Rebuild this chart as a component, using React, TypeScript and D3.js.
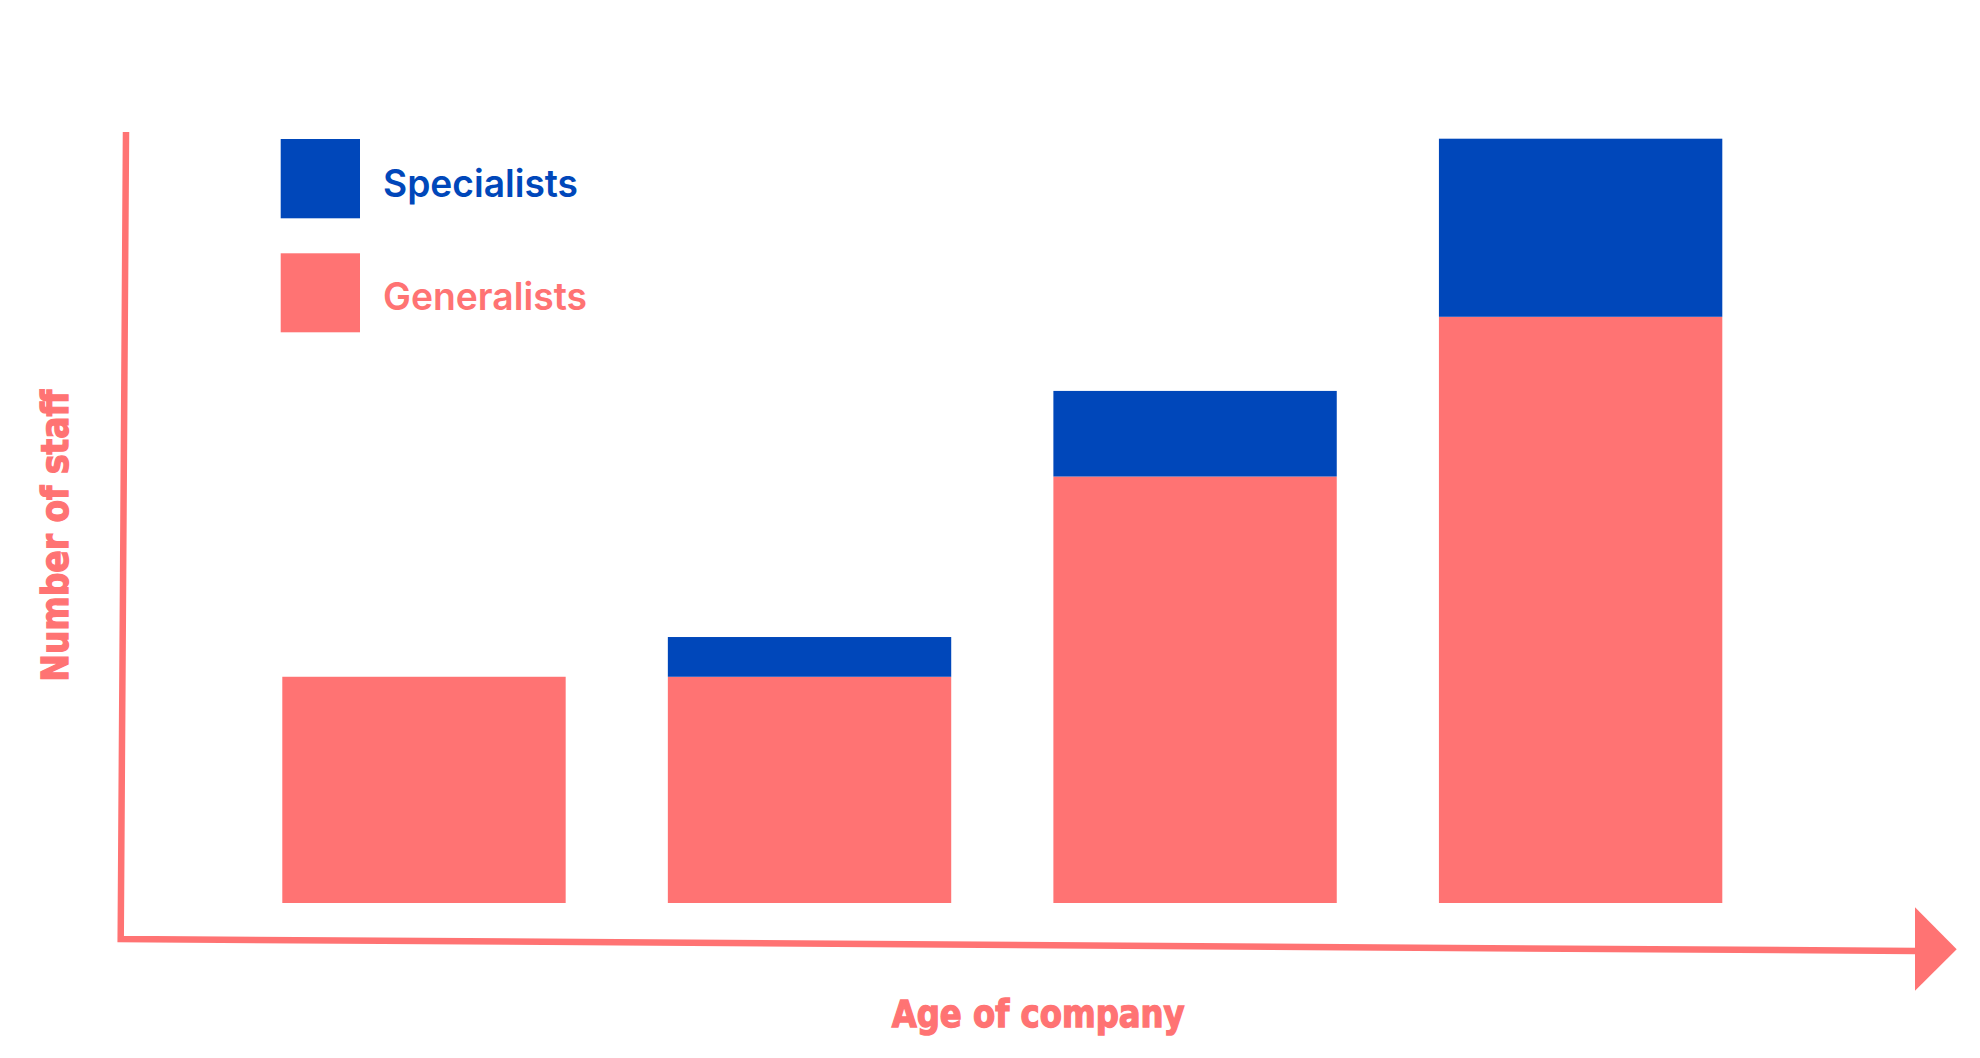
import React from "react";
import * as d3 from "d3";

const categories = ["Stage 1", "Stage 2", "Stage 3", "Stage 4"];
const generalists = [29.6, 29.6, 55.8, 76.7];
const specialists = [0, 5.2, 11.2, 23.3];
const seriesNames = ["Specialists", "Generalists"];
const xAxisLabel = "Age of company";
const yAxisLabel = "Number of staff";

const PINK = "#ff7373";
const BLUE = "#0047ba";

export default function App() {
  const W = 1980;
  const H = 1058;
  const x = d3
    .scaleBand<string>()
    .domain(categories)
    .range([282.3, 1722.3])
    .paddingInner(0.265)
    .paddingOuter(0);
  const y = d3.scaleLinear().domain([0, 100]).range([903, 138.7]);

  const rows = categories.map((c, i) => ({
    cat: c,
    Generalists: generalists[i],
    Specialists: specialists[i],
  }));
  const stacked = d3.stack<any>().keys(["Generalists", "Specialists"])(rows);
  const colors: Record<string, string> = { Generalists: PINK, Specialists: BLUE };

  const labelFont = "'DejaVu Sans', sans-serif";
  const legendFont = "Inter, 'Open Sans', sans-serif";

  return (
    <svg
      width={W}
      height={H}
      style={{ position: "absolute", left: 0, top: 0, background: "#fff" }}
    >
      {/* bars */}
      {stacked.map((s) => (
        <g key={s.key} fill={colors[s.key]}>
          {s.map((d, i) =>
            d[1] - d[0] > 0 ? (
              <rect
                key={i}
                x={x(categories[i])}
                width={x.bandwidth()}
                y={y(d[1])}
                height={y(d[0]) - y(d[1])}
              />
            ) : null
          )}
        </g>
      ))}

      {/* axes */}
      <path
        d="M126,132 L120.7,939 L1916,951"
        fill="none"
        stroke={PINK}
        strokeWidth={6.5}
        strokeLinejoin="miter"
      />
      <path d="M1915,907.3 L1956.7,949.3 L1915,990.7 Z" fill={PINK} />

      {/* axis labels */}
      <text
        x={891.7}
        y={1026.7}
        fill={PINK}
        stroke={PINK}
        strokeWidth={1.4}
        fontFamily={labelFont}
        fontWeight={700}
        fontSize={37}
        textLength={293}
        lengthAdjust="spacingAndGlyphs"
      >
        {xAxisLabel}
      </text>
      <text
        transform="translate(67.7,681.7) rotate(-90)"
        fill={PINK}
        stroke={PINK}
        strokeWidth={1.4}
        fontFamily={labelFont}
        fontWeight={700}
        fontSize={38}
        textLength={292}
        lengthAdjust="spacingAndGlyphs"
      >
        {yAxisLabel}
      </text>

      {/* legend */}
      <rect x={280.7} y={139} width={79.3} height={79.3} fill={BLUE} />
      <rect x={280.7} y={253.3} width={79.3} height={79} fill={PINK} />
      <text
        x={383}
        y={196.7}
        fill={BLUE}
        fontFamily={legendFont}
        fontWeight={600}
        fontSize={38}
        textLength={195}
        lengthAdjust="spacingAndGlyphs"
      >
        {seriesNames[0]}
      </text>
      <text
        x={383}
        y={310}
        fill={PINK}
        fontFamily={legendFont}
        fontWeight={600}
        fontSize={38}
        textLength={204}
        lengthAdjust="spacingAndGlyphs"
      >
        {seriesNames[1]}
      </text>
    </svg>
  );
}
